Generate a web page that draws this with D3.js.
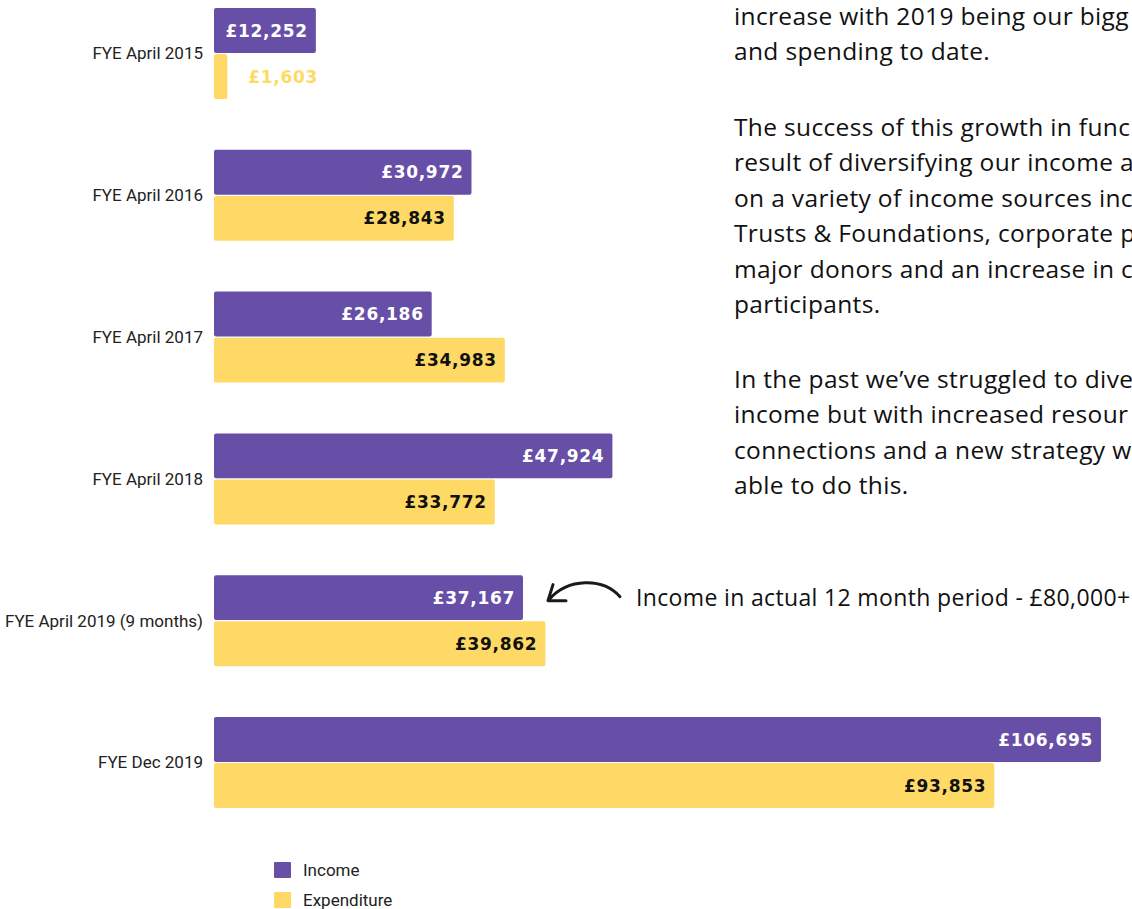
<!DOCTYPE html>
<html>
<head>
<meta charset="utf-8">
<script src="https://cdn.jsdelivr.net/npm/d3@7"></script>
<style>
  html, body { margin: 0; padding: 0; background: #fff; overflow: hidden; }
  svg { display: block; }
</style>
</head>
<body>
<div id="chart"></div>
<script>
const categories = ["FYE April 2015", "FYE April 2016", "FYE April 2017", "FYE April 2018", "FYE April 2019 (9 months)", "FYE Dec 2019"];
const income = [12252, 30972, 26186, 47924, 37167, 106695];
const expenditure = [1603, 28843, 34983, 33772, 39862, 93853];
const seriesNames = ["Income", "Expenditure"];
const colors = ["#674ea7", "#ffd966"];

const notePara1 = ["increase with 2019 being our bigg", "and spending to date."];
const notePara2 = ["The success of this growth in func", "result of diversifying our income a", "on a variety of income sources inc", "Trusts & Foundations, corporate p", "major donors and an increase in c", "participants."];
const notePara3 = ["In the past we\u2019ve struggled to dive", "income but with increased resour", "connections and a new strategy w", "able to do this."];
const arrowNote = "Income in actual 12 month period - \u00a380,000+";

const width = 1132, height = 909;

const svg = d3.select("#chart").append("svg")
    .attr("width", width)
    .attr("height", height);

const rows = categories.map((c, i) => ({ cat: c, values: [income[i], expenditure[i]] }));

const x = d3.scaleLinear()
    .domain([0, d3.max(income)])
    .range([214, 1101]);

const y = d3.scaleBand()
    .domain(categories)
    .range([8, 808])
    .paddingInner(0.358)
    .paddingOuter(0);

const ySub = d3.scaleBand()
    .domain(seriesNames)
    .range([0, y.bandwidth()])
    .paddingInner(0.025);

const fmt = v => "\u00a3" + d3.format(",")(v);

// category labels
svg.append("g")
  .selectAll("text")
  .data(rows)
  .join("text")
    .attr("x", 203)
    .attr("y", d => y(d.cat) + y.bandwidth() / 2)
    .attr("dy", "0.35em")
    .attr("text-anchor", "end")
    .attr("font-family", "Roboto, sans-serif")
    .attr("font-size", 17)
    .attr("fill", "#222")
    .text(d => d.cat);

const groups = svg.append("g")
  .selectAll("g")
  .data(rows)
  .join("g")
    .attr("transform", d => `translate(0,${y(d.cat)})`);

const bars = groups.selectAll("g.bar")
  .data(d => d.values.map((v, j) => ({ v, j, name: seriesNames[j] })))
  .join("g")
    .attr("class", "bar");

bars.append("rect")
    .attr("x", x(0))
    .attr("y", d => ySub(d.name))
    .attr("width", d => x(d.v) - x(0))
    .attr("height", ySub.bandwidth())
    .attr("rx", 2)
    .attr("fill", d => colors[d.j]);

const inside = d => x(d.v) - x(0) > 90;

bars.append("text")
    .attr("x", d => inside(d) ? x(d.v) - 8 : x(d.v) + 21)
    .attr("y", d => ySub(d.name) + ySub.bandwidth() / 2)
    .attr("dy", "0.36em")
    .attr("text-anchor", d => inside(d) ? "end" : "start")
    .attr("font-family", "'DejaVu Sans', sans-serif")
    .attr("font-weight", "bold")
    .attr("font-size", 17)
    .attr("letter-spacing", 0.7)
    .attr("fill", d => {
      if (!inside(d)) return colors[d.j];
      return d.j === 0 ? "#fff" : "#111";
    })
    .text(d => fmt(d.v));

// legend
const legend = svg.append("g")
    .attr("transform", "translate(274,862)");

const legendItems = legend.selectAll("g")
  .data(seriesNames)
  .join("g")
    .attr("transform", (d, i) => `translate(0,${i * 30})`);

legendItems.append("rect")
    .attr("width", 17)
    .attr("height", 16)
    .attr("rx", 1)
    .attr("fill", (d, i) => colors[i]);

legendItems.append("text")
    .attr("x", 29)
    .attr("y", 8)
    .attr("dy", "0.35em")
    .attr("font-family", "Roboto, sans-serif")
    .attr("font-size", 17)
    .attr("fill", "#222")
    .text(d => d);

// side notes
const notes = svg.append("g")
    .attr("font-family", "'Open Sans', sans-serif")
    .attr("font-size", 24.5)
    .attr("letter-spacing", 0.35)
    .attr("fill", "#111");

function addPara(lines, top) {
  notes.append("g")
    .selectAll("text")
    .data(lines)
    .join("text")
      .attr("x", 734)
      .attr("y", (d, i) => top + i * 35.4)
      .text(d => d);
}
addPara(notePara1, 25);
addPara(notePara2, 136);
addPara(notePara3, 388);

// arrow annotation next to the 9-month income bar
const ann = rows[4];
const ax = x(ann.values[0]);
const ay = y(ann.cat) + ySub(seriesNames[0]) + ySub.bandwidth() / 2;

const curve = d3.path();
curve.moveTo(ax + 97, ay - 1);
curve.bezierCurveTo(ax + 80, ay - 20, ax + 45, ay - 20, ax + 26, ay + 2);
svg.append("path")
    .attr("d", curve.toString())
    .attr("fill", "none")
    .attr("stroke", "#1a1a1a")
    .attr("stroke-width", 3)
    .attr("stroke-linecap", "round");

const head = d3.path();
head.moveTo(ax + 30, ay - 13);
head.lineTo(ax + 25, ay + 3);
head.lineTo(ax + 43, ay + 3);
svg.append("path")
    .attr("d", head.toString())
    .attr("fill", "none")
    .attr("stroke", "#1a1a1a")
    .attr("stroke-width", 3)
    .attr("stroke-linecap", "round")
    .attr("stroke-linejoin", "round");

svg.append("text")
    .attr("x", ax + 113)
    .attr("y", ay)
    .attr("dy", "0.35em")
    .attr("font-family", "'Open Sans', sans-serif")
    .attr("font-size", 23)
    .attr("letter-spacing", 0.35)
    .attr("fill", "#111")
    .text(arrowNote);
</script>
</body>
</html>
